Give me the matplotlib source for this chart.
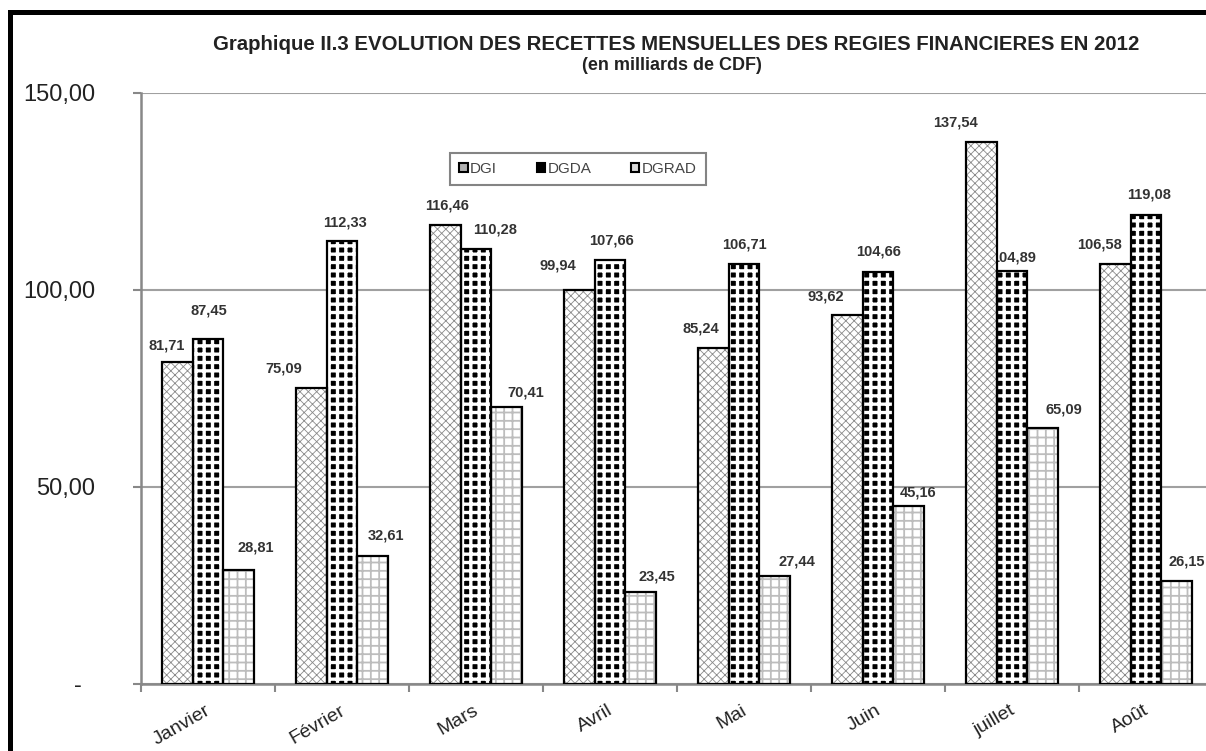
#graphique - recettes mensuelles des regies financieres 2012
# barres groupees par mois (DGI, DGDA, DGRAD) en milliards de CDF
# motifs en noir et blanc comme dans le rapport original

import matplotlib
matplotlib.use('Agg')
import matplotlib.pyplot as plt
from matplotlib.patches import Patch
from matplotlib.lines import Line2D
from matplotlib.ticker import FuncFormatter
from matplotlib.transforms import ScaledTranslation
import numpy as np

plt.rcParams['font.family'] = ['Liberation Sans', 'DejaVu Sans']

mois = ['Janvier', 'Février', 'Mars', 'Avril', 'Mai', 'Juin', 'juillet', 'Août']
dgi = [81.71, 75.09, 116.46, 99.94, 85.24, 93.62, 137.54, 106.58]
dgda = [87.45, 112.33, 110.28, 107.66, 106.71, 104.66, 104.89, 119.08]
dgrad = [28.81, 32.61, 70.41, 23.45, 27.44, 45.16, 65.09, 26.15]
series = ['DGI', 'DGDA', 'DGRAD']

# decalage des etiquettes (pixels) par rapport au haut de la barre
decal_dgi = [(-11, 17), (-28, 20), (2, 20), (-22, 25), (-13, 20), (-22, 19), (-26, 20), (-16, 20)]
decal_dgda = [(1, 29), (3, 19), (19, 20), (1, 19), (0, 19), (1, 20), (2, 13), (3, 20)]
decal_dgrad = [(17, 23), (13, 20), (19, 14), (16, 15), (22, 14), (10, 14), (21, 18), (10, 19)]

W, H = 1206, 751
fig = plt.figure(figsize=(W / 100, H / 100), dpi=100)
fig.patch.set_facecolor('white')
# l'axe depasse a droite, comme la capture d'origine
ax = fig.add_axes([141 / W, 67 / H, 1072 / W, 591 / H])

x = np.arange(len(mois))
larg = 0.228


def epaisseur_motif(artiste, ep):
  # selon la version, l'epaisseur du motif est lue a la creation ou au dessin
  if hasattr(artiste, 'set_hatch_linewidth'):
    artiste.set_hatch_linewidth(ep)
  artiste._hatch_linewidth = ep
  dessin = artiste.draw

  def draw(renderer):
    with plt.rc_context({'hatch.linewidth': ep}):
      dessin(renderer)

  artiste.draw = draw


# (valeurs, motif, fond, couleur motif, epaisseur motif, decalages)
styles = [
    (dgi, 'xxxx', 'white', '#8a8a8a', 0.6, decal_dgi),
    (dgda, '++', 'black', 'white', 2.4, decal_dgda),
    (dgrad, '++', 'white', '#bdbdbd', 1.3, decal_dgrad),
]

for i, (vals, motif, fond, coul, ep, decal) in enumerate(styles):
  xpos = x + (i - 1) * larg
  with plt.rc_context({'hatch.linewidth': ep}):
    barres = ax.bar(xpos, vals, larg, color=fond, edgecolor=coul,
                    hatch=motif, linewidth=0, zorder=3)
  for b in barres:
    epaisseur_motif(b, ep)
  # contour noir par dessus
  ax.bar(xpos, vals, larg, fill=False, edgecolor='black', linewidth=1.6,
         zorder=4)
  for xx, v, (dx, dy) in zip(xpos, vals, decal):
    ax.annotate(f'{v:.2f}'.replace('.', ','), xy=(xx, v),
                xytext=(dx * 0.72, dy * 0.72), textcoords='offset points',
                ha='center', va='center', fontsize=10.5, fontweight='bold',
                color='#333333', zorder=2.5)

ax.set_xlim(-0.5, len(mois) - 0.5)
ax.set_ylim(0, 150)

# grille
ax.set_yticks([0, 50, 100, 150])
ax.yaxis.grid(True, color='#a0a0a0', linewidth=1.5, zorder=1)
ax.set_axisbelow(True)


def format_y(v, pos):
  if v == 0:
    return '-  '
  return f'{v:.2f}'.replace('.', ',')


ax.yaxis.set_major_formatter(FuncFormatter(format_y))
ax.tick_params(axis='y', length=6, width=1.5, color='#888888', pad=27,
               labelsize=17, labelcolor='#222222')

# ticks entre les mois, etiquettes au centre
ax.set_xticks(np.arange(-0.5, len(mois), 1.0))
ax.set_xticklabels([])
ax.set_xticks(x, labels=mois, minor=True)
ax.tick_params(axis='x', which='major', length=6, width=1.5, color='#888888')
ax.tick_params(axis='x', which='minor', length=0, pad=13, labelsize=14,
               labelcolor='#222222')
for lab in ax.get_xticklabels(minor=True):
  lab.set_rotation(30)
  lab.set_ha('right')
  lab.set_va('top')
  lab.set_rotation_mode('anchor')
  lab.set_transform(lab.get_transform()
                    + ScaledTranslation(-2 / 72, 0, fig.dpi_scale_trans))

for s in ['top', 'right']:
  ax.spines[s].set_visible(False)
for s in ['left', 'bottom']:
  ax.spines[s].set_color('#888888')
  ax.spines[s].set_linewidth(1.8)

# legende
poignees = [
    Patch(facecolor='#b0b0b0', edgecolor='black', linewidth=1.5),
    Patch(facecolor='black', edgecolor='black', linewidth=1.5),
    Patch(facecolor='#d8d8d8', edgecolor='black', linewidth=1.5),
]
leg = fig.legend(poignees, series, loc='center', ncol=3,
                 bbox_to_anchor=(578 / W, 1 - 169 / H),
                 bbox_transform=fig.transFigure, fontsize=11,
                 handlelength=0.55, handleheight=0.55, handletextpad=0.15,
                 columnspacing=2.6, fancybox=False, borderpad=0.6,
                 labelcolor='#444444')
leg.get_frame().set_edgecolor('#666666')
leg.get_frame().set_linewidth(1.5)

# titre
fig.text(676 / W, 1 - 45 / H,
         'Graphique II.3 EVOLUTION DES RECETTES MENSUELLES DES REGIES FINANCIERES EN 2012',
         ha='center', va='center', fontsize=14.7, fontweight='bold',
         color='#222222')
fig.text(672 / W, 1 - 66 / H, '(en milliards de CDF)', ha='center',
         va='center', fontsize=13, fontweight='bold', color='#222222')

# cadre noir epais (gauche et haut)
fig.add_artist(Line2D([9.5 / W, 9.5 / W], [0, 1 - 11.5 / H],
                      transform=fig.transFigure, color='black', linewidth=3.6,
                      solid_capstyle='projecting'))
fig.add_artist(Line2D([9.5 / W, 1], [1 - 11.5 / H, 1 - 11.5 / H],
                      transform=fig.transFigure, color='black', linewidth=3.6,
                      solid_capstyle='projecting'))

fig.savefig('out.png', dpi=100)
print("Graphique genere")
